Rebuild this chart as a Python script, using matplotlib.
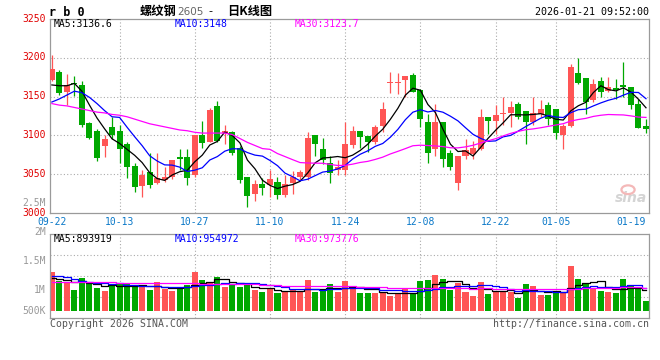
import numpy as np
import pandas as pd
import matplotlib
matplotlib.use('Agg')
import matplotlib.pyplot as plt
from matplotlib import transforms
from matplotlib.patches import Ellipse

# trading days shown (09-22 .. 01-21)
DATES = ['09-22', '09-23', '09-24', '09-25', '09-26', '09-29', '09-30',
         '10-09', '10-10', '10-13', '10-14', '10-15', '10-16', '10-17',
         '10-20', '10-21', '10-22', '10-23', '10-24', '10-27', '10-28',
         '10-29', '10-30', '10-31', '11-03', '11-04', '11-05', '11-06',
         '11-07', '11-10', '11-11', '11-12', '11-13', '11-14', '11-17',
         '11-18', '11-19', '11-20', '11-21', '11-24', '11-25', '11-26',
         '11-27', '11-28', '12-01', '12-02', '12-03', '12-04', '12-05',
         '12-08', '12-09', '12-10', '12-11', '12-12', '12-15', '12-16',
         '12-17', '12-18', '12-19', '12-22', '12-23', '12-24', '12-25',
         '12-26', '12-29', '12-30', '12-31', '01-05', '01-06', '01-07',
         '01-08', '01-09', '01-12', '01-13', '01-14', '01-15', '01-16',
         '01-19', '01-20', '01-21']

OPEN = [3172, 3182, 3156, 3168, 3165, 3116, 3106, 3086, 3111, 3106,
        3089, 3061, 3035, 3053, 3039, 3042, 3046, 3072, 3072, 3049,
        3100, 3092, 3138, 3103, 3105, 3084, 3046, 3024, 3037, 3036,
        3040, 3023, 3039, 3047, 3046, 3100, 3083, 3064, 3055, 3055,
        3087, 3106, 3099, 3091, 3112, 3167, 3167, 3171, 3178, 3158,
        3117, 3082, 3117, 3077, 3039, 3073, 3076, 3082, 3124, 3118,
        3127, 3129, 3141, 3131, 3117, 3128, 3139, 3134, 3101, 3112,
        3181, 3174, 3145, 3170, 3157, 3161, 3165, 3163, 3141, 3112]
HIGH = [3203, 3184, 3179, 3177, 3170, 3117, 3108, 3101, 3124, 3114,
        3092, 3064, 3055, 3077, 3077, 3059, 3068, 3083, 3083, 3100,
        3119, 3135, 3144, 3113, 3106, 3086, 3046, 3042, 3045, 3055,
        3046, 3049, 3054, 3056, 3104, 3100, 3097, 3074, 3068, 3117,
        3112, 3106, 3099, 3113, 3143, 3182, 3181, 3176, 3181, 3160,
        3128, 3141, 3117, 3081, 3074, 3095, 3093, 3134, 3124, 3139,
        3149, 3144, 3143, 3131, 3149, 3145, 3143, 3134, 3115, 3192,
        3200, 3174, 3173, 3175, 3175, 3173, 3195, 3163, 3147, 3121]
LOW = [3170, 3152, 3139, 3151, 3111, 3096, 3067, 3072, 3095, 3065,
       3045, 3027, 3020, 3032, 3038, 3040, 3044, 3055, 3036, 3047,
       3084, 3091, 3091, 3089, 3075, 3039, 3008, 3016, 3023, 3021,
       3018, 3021, 3025, 3042, 3042, 3074, 3063, 3039, 3049, 3049,
       3084, 3084, 3079, 3089, 3104, 3154, 3153, 3149, 3156, 3111,
       3065, 3074, 3059, 3055, 3030, 3070, 3070, 3081, 3102, 3102,
       3113, 3111, 3121, 3089, 3114, 3124, 3113, 3096, 3083, 3111,
       3166, 3128, 3143, 3149, 3156, 3147, 3149, 3134, 3109, 3103]
CLOSE = [3186, 3154, 3165, 3166, 3113, 3097, 3071, 3096, 3101, 3083,
         3059, 3033, 3049, 3036, 3045, 3047, 3068, 3070, 3045, 3100,
         3090, 3133, 3093, 3106, 3077, 3043, 3022, 3037, 3032, 3044,
         3023, 3037, 3047, 3053, 3097, 3089, 3068, 3051, 3059, 3089,
         3106, 3098, 3091, 3111, 3134, 3169, 3169, 3176, 3156, 3121,
         3077, 3117, 3069, 3059, 3074, 3081, 3084, 3124, 3118, 3126,
         3129, 3136, 3124, 3117, 3129, 3134, 3121, 3103, 3112, 3188,
         3167, 3143, 3166, 3156, 3163, 3159, 3162, 3139, 3110, 3108]
VOLUME = [1316000, 1155000, 1138000, 1000000, 1207000, 1098000, 1040000, 988000, 1074000, 1115000,
          1103000, 1057000, 1057000, 1000000, 1132000, 1023000, 988000, 1011000, 1086000, 1316000,
          1172000, 1132000, 1230000, 1057000, 1098000, 1057000, 1086000, 1000000, 971000, 1029000,
          954000, 971000, 1011000, 971000, 1172000, 971000, 988000, 1103000, 971000, 1155000,
          1057000, 954000, 954000, 943000, 960000, 902000, 943000, 1011000, 931000, 1155000,
          1172000, 1259000, 1190000, 1000000, 1126000, 966000, 902000, 1138000, 931000, 983000,
          971000, 971000, 862000, 1103000, 1069000, 914000, 914000, 954000, 954000, 1414000,
          1190000, 1121000, 1029000, 983000, 966000, 954000, 1190000, 1069000, 1011000, 810000]

# moving averages at the left edge (history before 09-22 not shown)
MA5_HEAD = [3165, 3164, 3164, 3167]
MA10_HEAD = [3143, 3147, 3152, 3157, 3155, 3149, 3141, 3132, 3124]
MA30_HEAD = [3141, 3139, 3138, 3136, 3134, 3132, 3130, 3129, 3127, 3126,
             3124, 3121, 3118, 3115, 3113, 3111, 3109, 3107, 3106, 3104,
             3103, 3103, 3103, 3103, 3101, 3096, 3091, 3087, 3083]
VMA5_HEAD = [1212000, 1195000, 1172000, 1143000]
VMA10_HEAD = [1247000, 1247000, 1229000, 1195000, 1160000, 1143000, 1126000, 1115000, 1110000]
VMA30_HEAD = [1133000, 1133000, 1133000, 1132000, 1132000, 1131000, 1131000, 1130000, 1130000, 1129000,
              1128000, 1127000, 1126000, 1124000, 1122000, 1120000, 1118000, 1116000, 1114000, 1112000,
              1110000, 1108000, 1106000, 1104000, 1102000, 1100000, 1097000, 1095000, 1093000]

TICK_DATES = ['09-22', '10-13', '10-27', '11-10', '11-24', '12-08', '12-22', '01-05', '01-19']
PRICE_TICKS = [3000, 3050, 3100, 3150, 3200, 3250]
VOL_TICKS = [2500000, 2000000, 1500000, 1000000, 500000]
VOL_TICK_LABELS = ['2.5M', '2M', '1.5M', '1M', '500K']
VOL_BASE = 638000

RED = '#ff5555'
GREEN = '#00a800'
MONO = 'DejaVu Sans Mono'
W, H = 660, 360


def moving_average(values, n, head):
    out = pd.Series(values, dtype=float).rolling(n).mean().to_numpy()
    out[:len(head)] = head
    return out


def px(x, y):
    return x / W, 1 - y / H


o = np.array(OPEN, float)
c = np.array(CLOSE, float)
x = np.arange(len(DATES))
colors = np.where(c >= o, RED, GREEN)

fig = plt.figure(figsize=(6.6, 3.6), dpi=100)
ax_p = fig.add_axes([50 / W, (H - 213) / H, 599 / W, 194 / H])
ax_v = fig.add_axes([50 / W, (H - 318) / H, 599 / W, 84 / H])

xlim = (-0.25, 79.4)
ticks = [DATES.index(d) for d in TICK_DATES]
for ax in (ax_p, ax_v):
    ax.set_xlim(*xlim)
    for side in ('left', 'top'):
        ax.spines[side].set_linestyle((0, (1, 1)))
    for side in ax.spines:
        ax.spines[side].set_color('#9a9a9a')
        ax.spines[side].set_linewidth(0.9)
    for t in ticks[1:-1]:
        ax.axvline(t, color='#aaaaaa', lw=0.8, ls=(0, (1, 2)), zorder=0)
    ax.tick_params(length=0)

# price panel
ax_p.set_ylim(3000, 3250)
for p in PRICE_TICKS[1:-1]:
    ax_p.axhline(p, color='#aaaaaa', lw=0.8, ls=(0, (1, 2)), zorder=0)
ax_p.vlines(x, LOW, HIGH, colors=colors, lw=0.9, zorder=2)
body_h = np.maximum(np.abs(c - o), 1.2)
ax_p.bar(x, body_h, 0.8, bottom=np.minimum(o, c), color=colors, lw=0, zorder=3)
ax_p.plot(x, moving_average(c, 5, MA5_HEAD), color='black', lw=0.9, zorder=4)
ax_p.plot(x, moving_average(c, 10, MA10_HEAD), color='#0000ff', lw=0.9, zorder=4)
ax_p.plot(x, moving_average(c, 30, MA30_HEAD), color='#ff00ff', lw=0.9, zorder=4)

ax_p.set_yticks(PRICE_TICKS)
ax_p.set_yticklabels([str(p) for p in PRICE_TICKS], color='#e00000',
                     family=MONO, fontsize=7)
ax_p.tick_params(axis='y', pad=3)
lift = transforms.ScaledTranslation(0, 1.5 / 100, fig.dpi_scale_trans)
for lab in ax_p.get_yticklabels():
    lab.set_transform(lab.get_transform() + lift)
ax_p.set_xticks(ticks)
ax_p.set_xticklabels(TICK_DATES, color='#0a78c8', family=MONO, fontsize=7)
ax_p.tick_params(axis='x', pad=3)

# sina watermark
ax_p.text(0.997, 0.075, 'sina', transform=ax_p.transAxes, ha='right', va='center',
          fontsize=10, style='italic', weight='bold', color='#d4d4d4', zorder=1)
ax_p.add_patch(Ellipse((0.965, 0.12), 0.022, 0.045, transform=ax_p.transAxes,
                       fill=False, ec='#f4b8b8', lw=1.6, zorder=1))

# volume panel
v = np.array(VOLUME, float)
ax_v.set_ylim(517000, 1965500)
lo, hi = ax_v.get_ylim()
for f in (0.25, 0.5, 0.75):
    ax_v.axhline(lo + f * (hi - lo), color='#aaaaaa', lw=0.8, ls=(0, (1, 2)), zorder=0)
ax_v.bar(x, v - VOL_BASE, 0.8, bottom=VOL_BASE, color=colors, lw=0, zorder=2)
ax_v.plot(x, moving_average(v, 5, VMA5_HEAD), color='black', lw=0.9,
          drawstyle='steps-mid', zorder=4)
ax_v.plot(x, moving_average(v, 10, VMA10_HEAD), color='#0000ff', lw=0.9,
          drawstyle='steps-mid', zorder=4)
ax_v.plot(x, moving_average(v, 30, VMA30_HEAD), color='#ff00ff', lw=0.9,
          drawstyle='steps-mid', zorder=4)
ax_v.set_yticks([])
ax_v.set_xticks([])
blend = transforms.blended_transform_factory(ax_v.transAxes, ax_v.transData)
for val, lab in zip(VOL_TICKS, VOL_TICK_LABELS):
    ax_v.text(-4 / 599, max(val, VOL_BASE), lab, transform=blend, ha='right',
              va='center', color='#999999', family=MONO, fontsize=7, clip_on=False)

# header texts
fig.text(*px(49, 12), 'r b 0', ha='left', va='center', family=MONO,
         weight='bold', fontsize=8.5)
fig.text(*px(140, 11), '螺纹钢', ha='left', va='center',
         family=['Noto Sans CJK SC'], weight='bold', fontsize=8.8)
fig.text(*px(177, 12), '2605', ha='left', va='center', family='DejaVu Sans',
         color='#666666', fontsize=7.5)
fig.text(*px(210, 11), '-', ha='center', va='center', family='DejaVu Sans',
         fontsize=8)
fig.text(*px(227, 11), '日K线图', ha='left', va='center',
         family=['Noto Sans CJK SC'], weight='bold', fontsize=8.8)
fig.text(*px(649, 12), '2026-01-21 09:52:00', ha='right', va='center',
         family=MONO, fontsize=7.2)

fig.text(*px(54, 24), 'MA5:3136.6', ha='left', va='center', family=MONO, fontsize=7)
fig.text(*px(175, 24), 'MA10:3148', ha='left', va='center', family=MONO,
         fontsize=7, color='#0000ff')
fig.text(*px(295, 24), 'MA30:3123.7', ha='left', va='center', family=MONO,
         fontsize=7, color='#ff00ff')
fig.text(*px(54, 238.5), 'MA5:893919', ha='left', va='center', family=MONO, fontsize=7)
fig.text(*px(175, 238.5), 'MA10:954972', ha='left', va='center', family=MONO,
         fontsize=7, color='#0000ff')
fig.text(*px(295, 238.5), 'MA30:973776', ha='left', va='center', family=MONO,
         fontsize=7, color='#ff00ff')

fig.text(*px(50, 324), 'Copyright 2026 SINA.COM', ha='left', va='center',
         family=MONO, fontsize=7.1, color='#555555')
fig.text(*px(649, 324), 'http://finance.sina.com.cn', ha='right', va='center',
         family=MONO, fontsize=7.1, color='#555555')

fig.savefig('out.png', dpi=100, facecolor='white')
